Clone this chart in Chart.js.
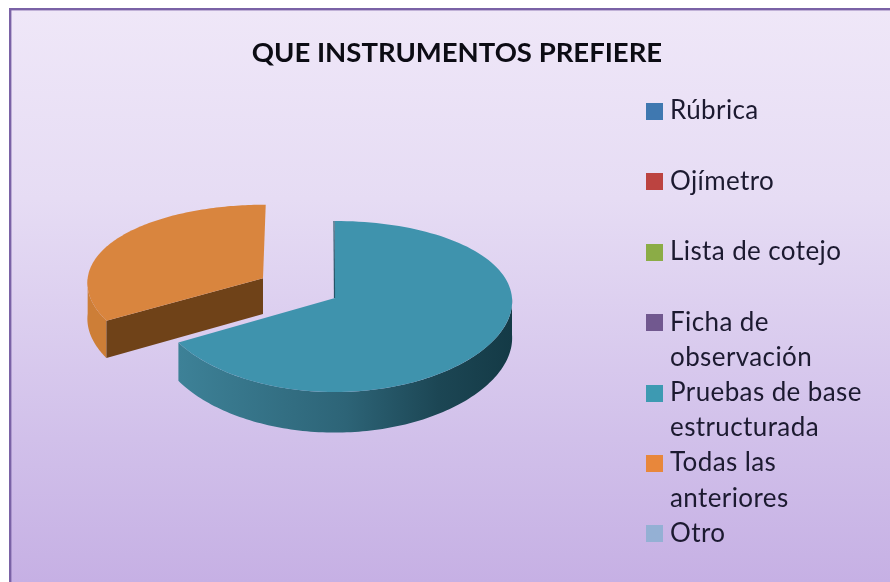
<!DOCTYPE html>
<html>
<head>
<meta charset="utf-8">
<style>
html,body{margin:0;padding:0;background:#fff;}
#wrap{position:relative;width:890px;height:582px;overflow:hidden;}
canvas{display:block;}
</style>
<script src="https://cdn.jsdelivr.net/npm/chart.js@4"></script>
</head>
<body>
<div id="wrap"><canvas id="c" width="890" height="582"></canvas></div>
<script>
const chartTitle = 'QUE INSTRUMENTOS PREFIERE';
const categories = [
  ['Rúbrica'],
  ['Ojímetro'],
  ['Lista de cotejo'],
  ['Ficha de', 'observación'],
  ['Pruebas de base', 'estructurada'],
  ['Todas las', 'anteriores'],
  ['Otro']
];
const seriesValues = [0, 0, 0, 0, 66.7, 33.3, 0];
const swatchColors = ['#3f78b0', '#bc4340', '#8bac46', '#71588f', '#3d9ab2', '#e8873b', '#94b0d4'];
const faceColors   = ['#3f78b0', '#bc4340', '#8bac46', '#71588f', '#3f93ad', '#d9853e', '#94b0d4'];

const CX = 335, APEX_Y = 298, SQUASH = 84.7, KY = 0.0994, KX = 0.04, DEPTH = 36.5;

function project(u, v, R, down) {
  const sy = 1 / (1 - KY * v), sx = 1 / (1 - KX * v);
  return [CX + R * u * sx, APEX_Y + SQUASH * v * sy + (down ? DEPTH * sy : 0)];
}

const pie3d = {
  id: 'pie3d',
  afterLayout(chart) {
    chart.titleBlock.left += 122;
    chart.titleBlock.right += 122;
  },
  beforeDraw(chart) {
    const ctx = chart.ctx;
    const g = ctx.createLinearGradient(0, 10, 0, 582);
    g.addColorStop(0, '#efe7f8');
    g.addColorStop(0.33, '#e6dcf4');
    g.addColorStop(0.75, '#d1c0ea');
    g.addColorStop(1, '#c6b0e4');
    ctx.save();
    ctx.fillStyle = '#ffffff';
    ctx.fillRect(0, 0, 890, 582);
    ctx.fillStyle = g;
    ctx.fillRect(10, 9, 880, 573);
    ctx.fillStyle = '#7a62a6';
    ctx.fillRect(9, 8, 881, 2);
    ctx.fillRect(9, 8, 2, 574);
    ctx.fillStyle = 'rgba(122,98,166,0.4)';
    ctx.fillRect(11, 10, 879, 1);
    ctx.fillRect(11, 10, 1, 572);
    ctx.restore();
  },
  beforeDatasetsDraw(chart) {
    const ctx = chart.ctx;
    const arcs = chart.getDatasetMeta(0).data;
    const order = arcs.map((a, i) => i).filter(i => arcs[i].circumference > 0)
      .sort((a, b) => (arcs[b].options.offset || 0) - (arcs[a].options.offset || 0));
    const wallGrad = ctx.createLinearGradient(179, 0, 512, 0);
    wallGrad.addColorStop(0, '#3d8197');
    wallGrad.addColorStop(0.5, '#2d6477');
    wallGrad.addColorStop(0.78, '#1c4654');
    wallGrad.addColorStop(1, '#143a46');
    order.forEach(i => {
      const el = arcs[i];
      const R = el.outerRadius;
      const a0 = el.startAngle, a1 = el.endAngle;
      const mid = (a0 + a1) / 2;
      const off = (el.options.offset || 0) / 4 / R;
      const u0 = Math.cos(mid) * off, v0 = Math.sin(mid) * off;
      const pt = (a, down) => project(u0 + Math.cos(a), v0 + Math.sin(a), R, down);
      const apex = (down) => project(u0, v0, R, down);
      const n = 120;
      const sample = (s, e) => { const r = []; for (let k = 0; k <= n; k++) r.push(s + (e - s) * k / n); return r; };
      const orange = off > 0;

      // outer wall: part of the rim turned towards the viewer
      const TAU = Math.PI * 2;
      for (const shift of [-TAU, 0, TAU]) {
        const s = Math.max(a0 + shift, 0), e = Math.min(a1 + shift, Math.PI);
        if (e > s) {
          ctx.beginPath();
          sample(s, e).forEach((a, k) => { const p = pt(a, false); k ? ctx.lineTo(p[0], p[1]) : ctx.moveTo(p[0], p[1]); });
          sample(s, e).reverse().forEach(a => { const p = pt(a, true); ctx.lineTo(p[0], p[1]); });
          ctx.closePath();
          ctx.fillStyle = orange ? '#cd7e37' : wallGrad;
          ctx.fill();
        }
      }
      // cut wall turned towards the viewer
      [[a0, a0 - Math.PI / 2], [a1, a1 + Math.PI / 2]].forEach(([a, normal]) => {
        if (Math.sin(normal) > 1e-6) {
          const p1 = apex(false), p2 = pt(a, false), p3 = pt(a, true), p4 = apex(true);
          ctx.beginPath();
          ctx.moveTo(p1[0], p1[1]); ctx.lineTo(p2[0], p2[1]); ctx.lineTo(p3[0], p3[1]); ctx.lineTo(p4[0], p4[1]);
          ctx.closePath();
          ctx.fillStyle = '#6f4218';
          ctx.fill();
        }
      });
      // top face
      ctx.beginPath();
      const ap = apex(false);
      ctx.moveTo(ap[0], ap[1]);
      sample(a0, a1).forEach(a => { const p = pt(a, false); ctx.lineTo(p[0], p[1]); });
      ctx.closePath();
      ctx.fillStyle = el.options.backgroundColor;
      ctx.fill();
      if (!orange) {
        const top = pt(a0, false);
        ctx.beginPath();
        ctx.moveTo(ap[0] - 0.5, ap[1]);
        ctx.lineTo(top[0] - 1, top[1]);
        ctx.strokeStyle = '#235568';
        ctx.lineWidth = 1.2;
        ctx.stroke();
      }
    });
    return false;
  },
  afterDraw(chart) {
    const ctx = chart.ctx;
    const rowTop = 103, rowStep = 70.4, lineStep = 35.5;
    ctx.save();
    ctx.textBaseline = 'middle';
    ctx.textAlign = 'left';
    ctx.font = '26px Lato';
    ctx.letterSpacing = '0.4px';
    categories.forEach((lines, i) => {
      const y = rowTop + rowStep * i;
      ctx.fillStyle = swatchColors[i];
      ctx.fillRect(646, Math.round(y), 17, 17);
      ctx.fillStyle = '#1c1a30';
      lines.forEach((t, j) => ctx.fillText(t, 670, y + 8 + j * lineStep));
    });
    ctx.restore();
  }
};

new Chart(document.getElementById('c'), {
  type: 'pie',
  data: {
    labels: categories.map(l => l.join(' ')),
    datasets: [{
      data: seriesValues,
      backgroundColor: faceColors,
      borderWidth: 0,
      offset: ctx => ctx.dataIndex === 5 ? 336 : 0
    }]
  },
  options: {
    responsive: false,
    animation: false,
    radius: 177,
    rotation: 0,
    layout: { padding: { left: 0, right: 220, top: 0, bottom: 0 } },
    plugins: {
      legend: { display: false },
      tooltip: { enabled: false },
      title: {
        display: true,
        text: chartTitle,
        color: '#0c0c14',
        font: { family: 'Lato', size: 27.5, weight: 'bold' },
        padding: { top: 37, bottom: 10 },
        align: 'center',
        fullSize: true
      }
    }
  },
  plugins: [pie3d]
});
</script>
</body>
</html>
